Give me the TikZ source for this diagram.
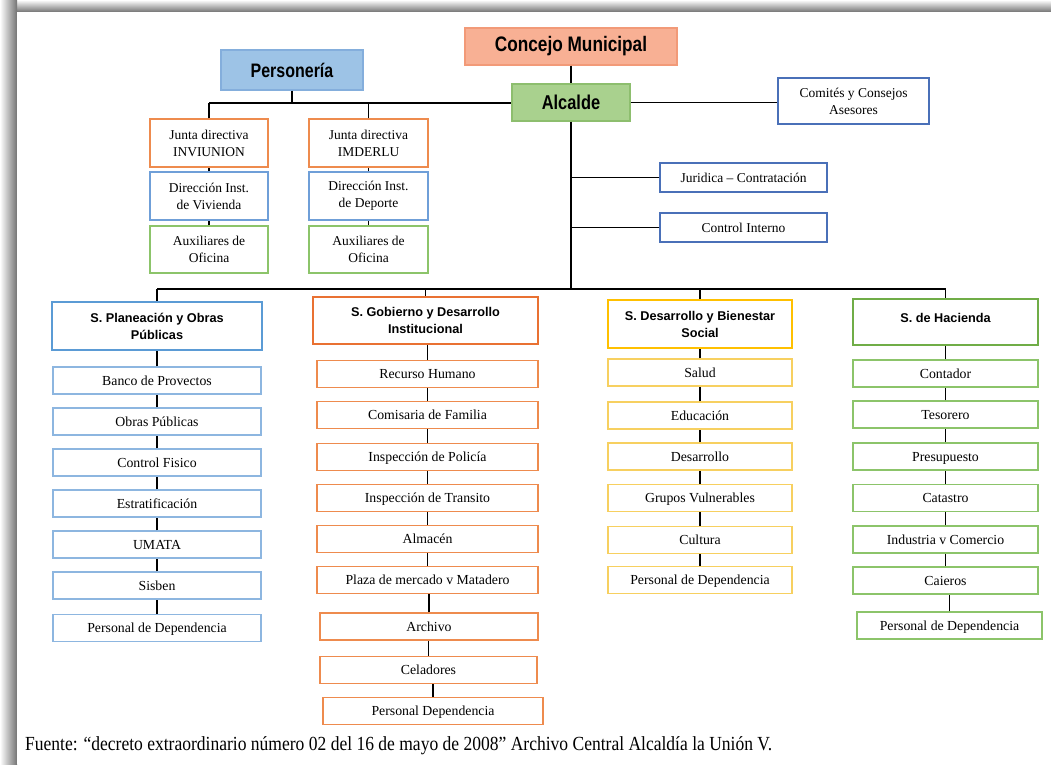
\documentclass[tikz,border=0pt]{standalone}
\usepackage{fontspec}
\usepackage{graphicx}
\setmainfont{Liberation Serif}
\newfontfamily\hdfont{Liberation Sans}
\definecolor{cOr}{HTML}{EE8B4E}
\definecolor{cOrH}{HTML}{E97132}
\definecolor{cBl}{HTML}{8DB6E0}
\definecolor{cBlH}{HTML}{5B9BD5}
\definecolor{cYe}{HTML}{F7D060}
\definecolor{cYeH}{HTML}{FFC000}
\definecolor{cGr}{HTML}{8CC46A}
\definecolor{cGrH}{HTML}{70AD47}
\definecolor{cDk}{HTML}{4A70B8}
\definecolor{cDir}{HTML}{6F9FD8}
\definecolor{fSal}{HTML}{F8B094}
\definecolor{bSal}{HTML}{F29A78}
\definecolor{fBl}{HTML}{9DC3E6}
\definecolor{bBl}{HTML}{84AEDC}
\definecolor{fGr}{HTML}{A9D18E}
\definecolor{bGr}{HTML}{8DBE6E}
\newcommand\narrowtxt[1]{\scalebox{0.82}[1]{#1}}
\tikzset{
  conn/.style={draw=black, line width=1.1pt},
  sub/.style={draw=#1, line width=1.3pt, fill=white, minimum height=27pt, inner sep=0pt, align=center, text height=12pt, text depth=2.5pt, font=\fontsize{13.8}{17}\selectfont},
  hdr/.style={draw=#1, line width=2.4pt, fill=white, inner sep=0pt, align=center, font=\hdfont\bfseries\fontsize{12.7}{17}\selectfont},
  topbox/.style={draw=#1, line width=1.2pt, inner sep=0pt, font=\hdfont\bfseries},
  plain/.style={draw=#1, line width=1.3pt, fill=white, inner sep=0pt, align=center, font=\fontsize{13.5}{17}\selectfont},
}
\begin{document}
\begin{tikzpicture}[x=1pt,y=-1pt]
\useasboundingbox (0,0) rectangle (1051,764);
\fill[white] (0,0) rectangle (1051,764);
% frame shadow
\shade[top color=white, bottom color=black!55] (0,0) rectangle (1051,12);
\shade[left color=white, right color=black!55] (0,0) rectangle (17,764);
\fill[white] (17,12) rectangle (1051,764);

% top level
\node[topbox=bSal, fill=fSal, minimum width=212pt, minimum height=37pt] (C) at (571,46.5) {\narrowtxt{\fontsize{21}{21}\selectfont Concejo Municipal}};
\node[topbox=bBl, fill=fBl, minimum width=142pt, minimum height=40pt] (Pe) at (292,70) {\narrowtxt{\fontsize{19.5}{20}\selectfont Personería}};
\node[topbox=bGr, fill=fGr, minimum width=118pt, minimum height=37pt] (A) at (571,102.5) {\narrowtxt{\fontsize{20}{20}\selectfont Alcalde}};
\node[plain=cDk, minimum width=151pt, minimum height=46pt] (Co) at (853.5,101) {Comités y Consejos\\Asesores};
\node[plain=cDk, minimum width=167pt, minimum height=29pt] (Ju) at (743.5,177.5) {Juridica – Contratación};
\node[plain=cDk, minimum width=167pt, minimum height=29pt] (Ci) at (743.5,227.5) {Control Interno};

% institutes
\node[plain=cOr, minimum width=118pt, minimum height=48pt] (I1) at (209,143) {Junta directiva\\INVIUNION};
\node[plain=cDir, minimum width=118pt, minimum height=48pt] (I2) at (209,196) {Dirección Inst.\\de Vivienda};
\node[plain=cGr, minimum width=118pt, minimum height=47pt] (I3) at (209,249.5) {Auxiliares de\\Oficina};
\node[plain=cOr, minimum width=119pt, minimum height=48pt] (D1) at (368.5,143) {Junta directiva\\IMDERLU};
\node[plain=cDir, minimum width=119pt, minimum height=48pt] (D2) at (368.5,196) {Dirección Inst.\\de Deporte};
\node[plain=cGr, minimum width=119pt, minimum height=47pt] (D3) at (368.5,249.5) {Auxiliares de\\Oficina};

% secretariats
\node[hdr=cBlH, minimum width=210pt, minimum height=48pt] (P) at (157,326) {S. Planeación y Obras\\Públicas};
\node[hdr=cOrH, minimum width=225pt, minimum height=47pt] (G) at (425.5,320.5) {S. Gobierno y Desarrollo\\Institucional};
\node[hdr=cYeH, minimum width=184pt, minimum height=48pt] (B) at (700,324) {S. Desarrollo y Bienestar\\Social};
\node[hdr=cGrH, minimum width=185pt, minimum height=46pt, text height=9pt, text depth=8pt] (H) at (945.5,322) {S. de Hacienda};

\foreach \n/\y/\t in {1/380.5/Banco de Provectos, 2/421.5/Obras Públicas, 3/462.5/Control Fisico, 4/503.5/Estratificación, 5/544.5/UMATA, 6/585.5/Sisben, 7/628/Personal de Dependencia}
  \node[sub=cBl, minimum width=208pt] (p\n) at (157,\y) {\t};

\foreach \n/\x/\y/\w/\t in {1/427.5/374/221/Recurso Humano, 2/427.5/415/221/Comisaria de Familia, 3/427.5/457/221/Inspección de Policía, 4/427.5/498/221/Inspección de Transito, 5/427.5/539/221/Almacén, 6/427.5/580/221/Plaza de mercado v Matadero, 7/429/626.5/218/Archivo, 8/428.5/670/217/Celadores, 9/433/711/220/Personal Dependencia}
  \node[sub=cOr, minimum width=\w pt] (g\n) at (\x,\y) {\t};

\foreach \n/\y/\t in {1/372.5/Salud, 2/415.5/Educación, 3/456.5/Desarrollo, 4/498/Grupos Vulnerables, 5/540/Cultura, 6/580/Personal de Dependencia}
  \node[sub=cYe, minimum width=184pt] (b\n) at (700,\y) {\t};

\foreach \n/\x/\y/\t in {1/945.5/373.5/Contador, 2/945.5/414.5/Tesorero, 3/945.5/456.5/Presupuesto, 4/945.5/498/Catastro, 5/945.5/539.5/Industria v Comercio, 6/945.5/580.5/Caieros, 7/949.5/625.5/Personal de Dependencia}
  \node[sub=cGr, minimum width=185pt] (h\n) at (\x,\y) {\t};

% caption
\node[anchor=west, inner sep=0pt] (cap) at (25,746) {\scalebox{0.876}[1]{\fontsize{20}{20}\selectfont Fuente: “decreto extraordinario número 02 del 16 de mayo de 2008” Archivo Central Alcaldía la Unión V.}};

% connectors
\coordinate (ly) at (0,289);
\coordinate (lt) at (0,103);
\draw[conn] (C.south) -- (A.north);
\draw[conn] (A.east) -- (A.east -| Co.west);
\draw[conn] (A.south) -- (A.south |- ly);
\draw[conn] (Ju.west) -- (Ju.west -| A.south);
\draw[conn] (Ci.west) -- (Ci.west -| A.south);
\draw[conn] (I1.north |- lt) -- (A.west |- lt);
\draw[conn] (Pe.south) -- (Pe.south |- lt);
\draw[conn] (I1.north) -- (I1.north |- lt);
\draw[conn] (D1.north) -- (D1.north |- lt);
\draw[conn] (I2.north) -- (I1.south);
\draw[conn] (I3.north) -- (I2.south);
\draw[conn] (D2.north) -- (D1.south);
\draw[conn] (D3.north) -- (D2.south);
\draw[conn] (P.north |- ly) -- (H.north |- ly);
\foreach \s in {P,G,B,H} \draw[conn] (\s.north) -- (\s.north |- ly);
\draw[conn] (p1.north) -- (p1.north |- P.south);
\draw[conn] (g1.north) -- (g1.north |- G.south);
\draw[conn] (b1.north) -- (b1.north |- B.south);
\draw[conn] (h1.north) -- (h1.north |- H.south);
\foreach \a/\b in {1/2,2/3,3/4,4/5,5/6,6/7} {
  \draw[conn] (p\b.north) -- (p\b.north |- p\a.south);
  \draw[conn] (h\b.north) -- (h\b.north |- h\a.south);
}
\foreach \a/\b in {1/2,2/3,3/4,4/5,5/6,6/7,7/8,8/9}
  \draw[conn] (g\b.north) -- (g\b.north |- g\a.south);
\foreach \a/\b in {1/2,2/3,3/4,4/5,5/6}
  \draw[conn] (b\b.north) -- (b\b.north |- b\a.south);
\end{tikzpicture}
\end{document}
